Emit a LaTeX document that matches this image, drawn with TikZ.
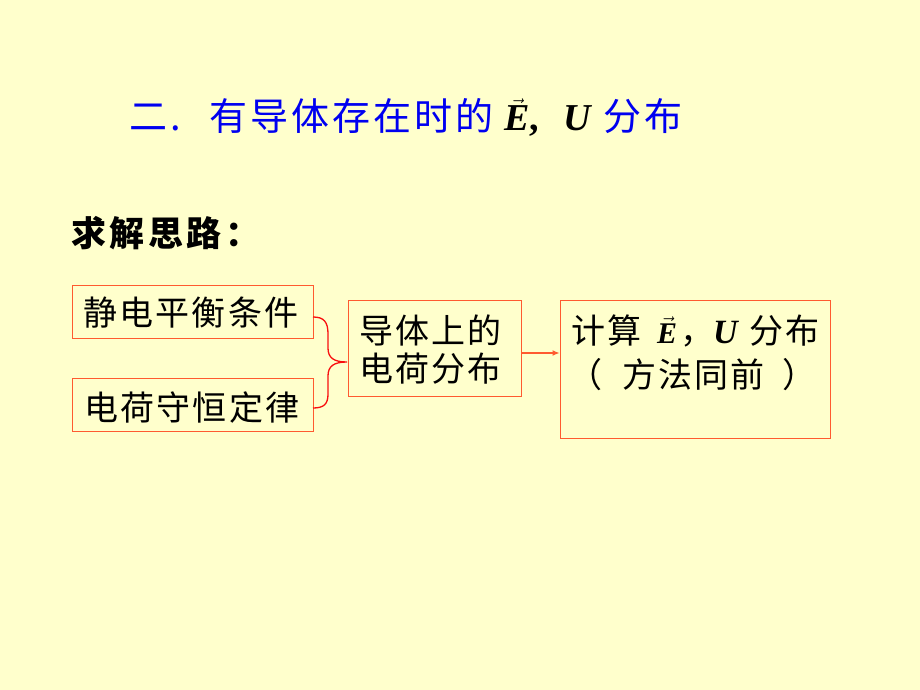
\documentclass[tikz,border=0pt]{standalone}
\usepackage{fontspec}
\usetikzlibrary{arrows.meta}
\newfontfamily\cjk{Noto Sans CJK SC}[LetterSpace=6]
\newfontfamily\cjkt{Noto Sans CJK SC}[LetterSpace=8]
\newfontfamily\cjks{Noto Sans CJK SC}[LetterSpace=10]
\newfontfamily\tms{Liberation Serif}
\newcommand{\vecE}{\ensuremath{\vec{\mbox{\tms\bfseries\itshape E}}}}
\newcommand{\itU}{{\tms\bfseries\itshape U}}
\definecolor{bgyel}{HTML}{FFFFCC}
\definecolor{boxred}{HTML}{FF5A30}
\definecolor{bracered}{HTML}{F81010}
\definecolor{ttlblue}{HTML}{0000F0}
\tikzset{
  box/.style={draw=boxred, line width=1pt, inner sep=0pt},
  txt/.style={font=\cjk\fontsize{34}{38}\selectfont, inner sep=0pt, text=black},
  ttl/.style={font=\cjkt\fontsize{38}{42}\selectfont, inner sep=0pt, text=ttlblue, anchor=base west},
  brace/.style={draw=bracered, line width=1.3pt},
  arr/.style={draw=boxred, line width=1.2pt, -{Latex[length=7pt,width=6pt]}}
}
\begin{document}
\begin{tikzpicture}[x=1pt,y=-1pt]
\fill[bgyel] (0,0) rectangle (920,690);
\useasboundingbox (0,0) rectangle (920,690);
% title
\node[ttl] (ti1) at (129,131) {二.};
\node[ttl] (ti2) at (209,131) {有导体存在时的};
\node[ttl, text=black, font=\tms\fontsize{38}{42}\selectfont] (ti3) at (504,131) {\vecE{\bfseries,}};
\node[ttl, text=black, font=\fontsize{38}{42}\selectfont] (ti4) at (563,131) {\itU};
\node[ttl] (ti5) at (603,131) {分布};
\node[txt, anchor=base west, font=\cjks\bfseries\fontsize{35}{38}\selectfont] (sub) at (71,246) {求解思路：};
% boxes
\node[box, minimum width=241, minimum height=53] (b1) at (192.5,311.5) {};
\node[txt] (t1) at (191,313) {静电平衡条件};
\node[box, minimum width=241, minimum height=53] (b2) at (192.5,404.5) {};
\node[txt] (t2) at (192,408) {电荷守恒定律};
\node[box, minimum width=173, minimum height=96] (b3) at (434.5,348) {};
\node[txt, align=left, anchor=north west] (t3) at (359,315) {导体上的\\电荷分布};
\node[box, minimum width=270, minimum height=138] (b4) at (695,369) {};
\node[txt, anchor=base west] (t4a) at (571,343) {计算};
\node[txt, anchor=base west, font=\fontsize{30}{34}\selectfont] (t4b) at (657,343) {\vecE};
\node[txt, anchor=base west] (t4c) at (680,343) {，};
\node[txt, anchor=base west] (t4d) at (713,343) {\itU};
\node[txt, anchor=base west] (t4e) at (749,343) {分布};
\node[txt, anchor=base west] (t4f) at (568,387) {（};
\node[txt, anchor=base west] (t4g) at (622,387) {方法同前};
\node[txt, anchor=base west] (t4h) at (782,387) {）};
% brace
\coordinate (bt) at (313,317);
\coordinate (bb) at (313,408);
\coordinate (tip) at (347,362);
\draw[brace] (bt) .. controls (324,317) and (328,322) .. (328,334) -- (328,348)
  .. controls (328,358) and (334,362) .. (tip)
  .. controls (334,362) and (328,366) .. (328,376) -- (328,394)
  .. controls (328,404) and (324,408) .. (bb);
% arrow
\draw[arr] (b3.east |- 0,353) -- (b4.west |- 0,353);
\end{tikzpicture}
\end{document}
